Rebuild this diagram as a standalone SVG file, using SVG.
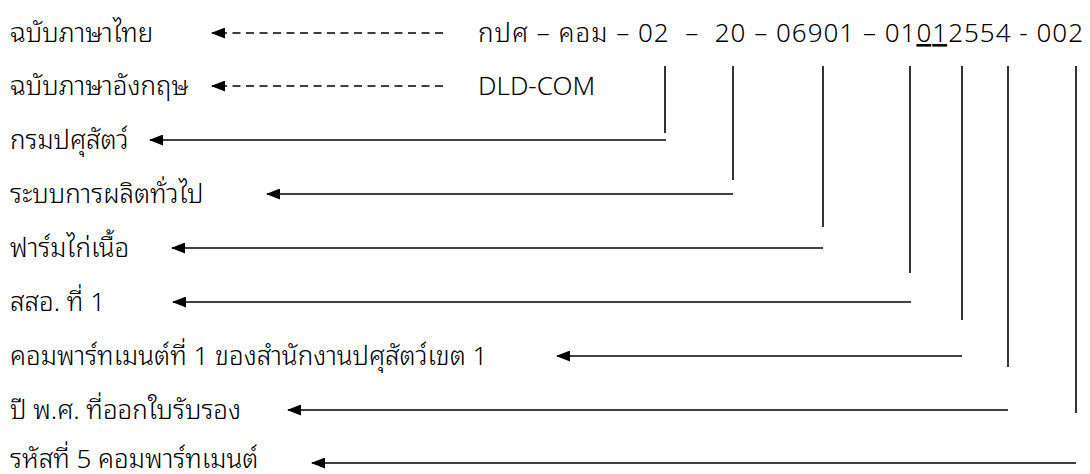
<svg xmlns="http://www.w3.org/2000/svg" width="1090" height="474" viewBox="0 0 1090 474">
<style>
text{font-family:"Noto Sans","Noto Sans Thai Looped","Leelawadee UI","Tahoma","Waree","Umpush","Sawasdee","Loma","Garuda","Noto Sans Thai","DejaVu Sans",sans-serif;font-size:26px;font-weight:300;fill:#000;white-space:pre}
.ln{stroke:#000;stroke-width:1.6;fill:none}
.dash{stroke:#000;stroke-width:1.4;fill:none;stroke-dasharray:8 5.5}
</style>
<defs>
<marker id="ah" viewBox="0 0 14 11" refX="13" refY="5.5" markerWidth="14" markerHeight="11" markerUnits="userSpaceOnUse" orient="auto">
<path d="M0,0 L14,5.5 L0,11 z" fill="#000"/>
</marker>
</defs>
<rect width="1090" height="474" fill="#fff"/>
<g id="code-th"><text x="478" y="42" textLength="605" lengthAdjust="spacing">กปศ – คอม – 02  –  20 – 06901 – 01<tspan text-decoration="underline">01</tspan>2554 - 002</text></g>
<g id="code-en"><text x="478" y="95">DLD-COM</text></g>
<g id="label-th"><text x="10" y="42">ฉบับภาษาไทย</text></g>
<g id="label-en"><text x="10" y="95">ฉบับภาษาอังกฤษ</text></g>
<g id="n1"><text x="10" y="149">กรมปศุสัตว์</text></g>
<g id="n2"><text x="10" y="203">ระบบการผลิตทั่วไป</text></g>
<g id="n3"><text x="10" y="257">ฟาร์มไก่เนื้อ</text></g>
<g id="n4"><text x="10" y="311">สสอ. ที่ 1</text></g>
<g id="n5"><text x="10" y="365">คอมพาร์ทเมนต์ที่ 1 ของสำนักงานปศุสัตว์เขต 1</text></g>
<g id="n6"><text x="10" y="419">ปี พ.ศ. ที่ออกใบรับรอง</text></g>
<g id="n7"><text x="10" y="468">รหัสที่ 5 คอมพาร์ทเมนต์</text></g>
<g id="connectors">
<path class="dash" d="M443,33 H212" marker-end="url(#ah)"/>
<path class="dash" d="M443,86 H212" marker-end="url(#ah)"/>
<path class="ln" d="M665,66 V133"/>
<path class="ln" d="M733,66 V180"/>
<path class="ln" d="M823,66 V227"/>
<path class="ln" d="M910,66 V273"/>
<path class="ln" d="M962,66 V320"/>
<path class="ln" d="M1008,66 V367"/>
<path class="ln" d="M1076,66 V413"/>
<path class="ln" d="M666,140 H150" marker-end="url(#ah)"/>
<path class="ln" d="M733,194 H267" marker-end="url(#ah)"/>
<path class="ln" d="M823,248 H172" marker-end="url(#ah)"/>
<path class="ln" d="M911,302 H173" marker-end="url(#ah)"/>
<path class="ln" d="M962,356 H557" marker-end="url(#ah)"/>
<path class="ln" d="M1008,410 H288" marker-end="url(#ah)"/>
<path class="ln" d="M1076,463 H312" marker-end="url(#ah)"/>
</g>
</svg>
